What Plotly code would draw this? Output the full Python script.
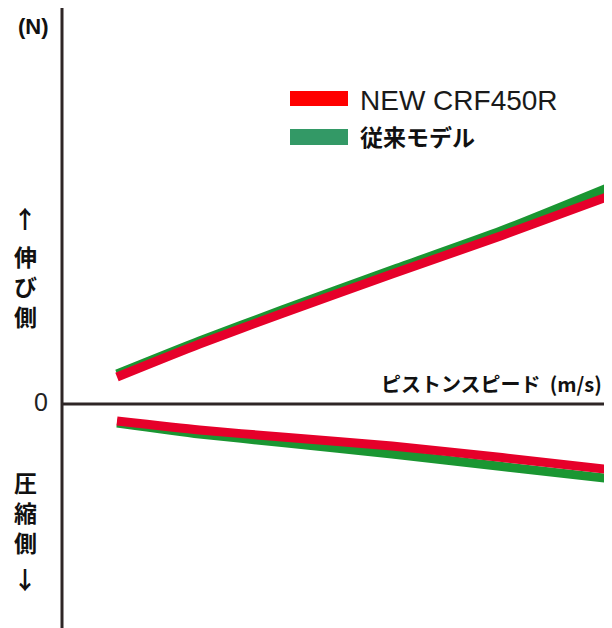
import plotly.graph_objects as go

OFF = 8  # page body margin: the figure sits 8px in from the window's top-left
WIN_W, WIN_H = 612, 628
W, H = WIN_W - 2 * OFF, WIN_H - OFF

# Data (arbitrary units)
speed = [0.1, 0.25, 0.4, 0.6, 0.8, 1.0]
new_rebound = [0.27, 0.60, 0.905, 1.30, 1.685, 2.09]
old_rebound = [0.30, 0.63, 0.94, 1.34, 1.735, 2.18]
new_comp = [-0.17, -0.26, -0.33, -0.42, -0.535, -0.66]
old_comp = [-0.19, -0.30, -0.385, -0.50, -0.625, -0.75]

names = ["NEW CRF450R", "従来モデル"]
line_colors = ["#e6002a", "#1a9632"]
legend_colors = ["#ff0000", "#339966"]

LAT = "Liberation Sans, Arial, Noto Sans CJK JP"
CJK = "Noto Sans CJK JP, Liberation Sans"

fig = go.Figure()
lw = 9
for xs, ys, c in [(speed, old_rebound, line_colors[1]), (speed, old_comp, line_colors[1]),
                  (speed, new_rebound, line_colors[0]), (speed, new_comp, line_colors[0])]:
    fig.add_trace(go.Scatter(x=xs, y=ys, mode="lines",
                             line=dict(color=c, width=lw, shape="spline", smoothing=0.6),
                             showlegend=False, hoverinfo="skip"))


def px(x):
    return (x - OFF) / W


def py(y):
    return 1 - (y - OFF) / H


axis_color = "#2e2626"
shapes = [
    dict(type="line", xref="x", yref="paper", x0=0, x1=0, y0=0, y1=1,
         line=dict(color=axis_color, width=3), layer="below"),
    dict(type="line", xref="x", yref="y", x0=0, x1=1.02, y0=0, y1=0,
         line=dict(color=axis_color, width=3), layer="below"),
    dict(type="rect", xref="paper", yref="paper", x0=px(290), x1=px(348),
         y0=py(106), y1=py(91), fillcolor=legend_colors[0], line=dict(width=0)),
    dict(type="rect", xref="paper", yref="paper", x0=px(290), x1=px(348),
         y0=py(145), y1=py(129), fillcolor=legend_colors[1], line=dict(width=0)),
]

ann = []


def add_text(text, x, y, size, bold=False, xanchor="center", family=CJK, color="#111111"):
    t = f"<b>{text}</b>" if bold else text
    ann.append(dict(text=t, x=px(x), y=py(y), xref="paper", yref="paper",
                    xanchor=xanchor, yanchor="middle", showarrow=False,
                    font=dict(size=size, family=family, color=color)))


add_text("(N)", 33, 27, 22, bold=True, family=LAT)
add_text(names[0], 358, 100, 28, xanchor="left", family=LAT, color="#1a1a1a")
add_text(names[1], 358, 136, 23, bold=True, xanchor="left")
add_text("0", 41, 402, 25, family=LAT, color="#222222")
add_text("ピストンスピード &nbsp;(m/s)", 604, 383, 20, bold=True, xanchor="right")
add_text("↑", 25, 218, 24, bold=True)
add_text("伸<br>び<br>側", 25, 286, 23, bold=True)
add_text("圧<br>縮<br>側", 25, 512, 23, bold=True)
add_text("↓", 25, 578, 24, bold=True)

fig.update_layout(
    width=W, height=H,
    margin=dict(l=0, r=0, t=0, b=0),
    paper_bgcolor="white", plot_bgcolor="white",
    xaxis=dict(domain=[(40 - OFF) / W, 1], range=[-0.04, (W + OFF - 62) / 550],
               visible=False, fixedrange=True),
    yaxis=dict(range=[(404 - OFF - H) / 100, (404 - OFF) / 100], visible=False, fixedrange=True),
    shapes=shapes, annotations=ann, showlegend=False,
)

fig.write_html("out.html")
